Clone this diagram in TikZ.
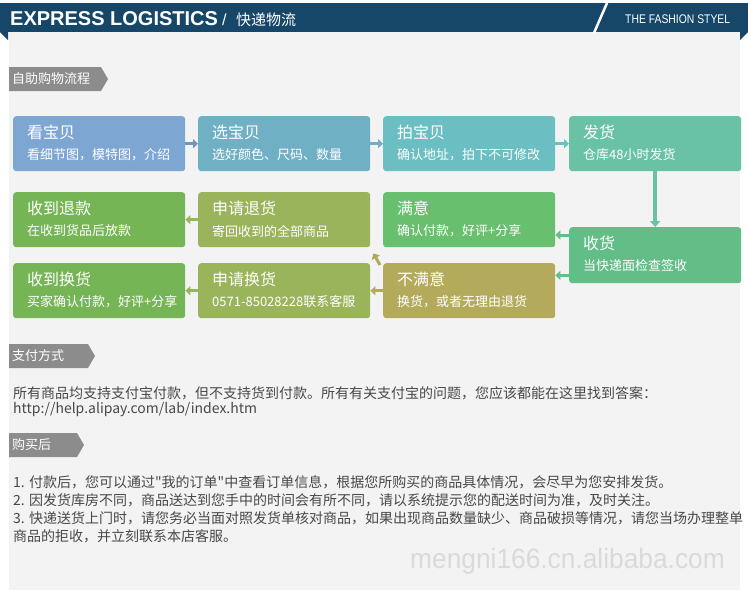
\documentclass[tikz,border=0pt]{standalone}
\usepackage{fontspec}
\usepackage{graphicx}
\setmainfont[Ligatures=TeXOff]{Noto Sans CJK SC}
\newfontfamily\arialfont{Liberation Sans}
\usetikzlibrary{arrows.meta,calc}
\definecolor{hdr}{RGB}{22,70,104}
\definecolor{bgc}{RGB}{243,243,243}
\definecolor{tabc}{RGB}{140,140,140}
\definecolor{txt}{RGB}{72,72,72}
\definecolor{wmk}{RGB}{218,218,218}
\definecolor{cblue}{RGB}{126,166,211}
\definecolor{cteala}{RGB}{112,176,196}
\definecolor{ctealb}{RGB}{107,191,195}
\definecolor{cmint}{RGB}{106,194,166}
\definecolor{cgreena}{RGB}{98,189,134}
\definecolor{cgreenb}{RGB}{104,191,110}
\definecolor{cochre}{RGB}{180,170,92}
\definecolor{colive}{RGB}{154,180,92}
\definecolor{cleaf}{RGB}{118,181,86}
\newcommand\fsz[1]{\fontsize{#1}{#1}\selectfont}
\tikzset{
  pbox/.style={rectangle, rounded corners=3pt, minimum width=172pt, inner sep=0pt, draw=none},
  ttl/.style={inner sep=0pt, text=white, font=\fsz{16}},
  subt/.style={inner sep=0pt, text=white, font=\fsz{13}},
  arr/.style={line width=3pt, -{Triangle[width=9pt,length=5pt]}},
  tabtxt/.style={inner sep=0pt, anchor=west, text=white, font=\fsz{13}},
  body/.style={inner sep=0pt, anchor=west, text=txt, font=\fsz{14}}
}
\newcommand\procbox[7]{%
  \node[pbox, fill=#5, minimum height=#4pt, anchor=north west] (#1) at (#2,#3) {};
  \node[ttl, anchor=west] (#1t) at ($(#1.north west)+(14,16)$) {#6};
  \node[subt, anchor=west] (#1s) at ($(#1.north west)+(14,39)$) {#7};
}
\newcommand\tabmark[4]{%
  \fill[tabc] (9,#2) -- (#3-7,#2) -- (#3,#2+12) -- (#3-7,#2+24) -- (9,#2+24) -- cycle;
  \node[tabtxt] (#1) at (12,#2+12) {#4};
}
\begin{document}
\begin{tikzpicture}[x=1pt,y=-1pt]
\useasboundingbox (0,0) rectangle (748,590);
\fill[white] (0,0) rectangle (748,590);
\fill[bgc] (9,32) rectangle (740,590);
% header
\fill[hdr] (0,3) rectangle (748,32);
\fill[hdr] (0,32) -- (8,32) -- (8,40) -- cycle;
\fill[hdr] (740,32) -- (748,32) -- (740,40) -- cycle;
\draw[white, line width=2.5pt] (607,3) -- (594,33);
\node[inner sep=0pt, anchor=base west, text=white] (title) at (10,25) {\arialfont\bfseries\fsz{20}EXPRESS LOGISTICS};
\node[inner sep=0pt, anchor=base west, text=white] (titleslash) at (222,25) {\arialfont\fsz{16}/};
\node[inner sep=0pt, anchor=base west, text=white] (titlecn) at (236,25) {\fsz{15}快递物流};
\node[inner sep=0pt, anchor=base west, text=white] (slogan) at (625,23) {\arialfont\fsz{12.5}\scalebox{0.83}[1]{THE FASHION STYEL}};
% section 1
\tabmark{tab1}{67}{108}{自助购物流程}
\procbox{kan}{13}{116}{55}{cblue}{看宝贝}{看细节图，模特图，介绍}
\procbox{xuan}{198}{116}{55}{cteala}{选宝贝}{选好颜色、尺码、数量}
\procbox{pai}{383}{116}{55}{ctealb}{拍宝贝}{确认地址，拍下不可修改}
\procbox{fa}{569}{116}{55}{cmint}{发货}{仓库48小时发货}
\procbox{tk}{13}{192}{55}{cleaf}{收到退款}{在收到货品后放款}
\procbox{sqt}{198}{192}{55}{colive}{申请退货}{寄回收到的全部商品}
\procbox{my}{383}{192}{55}{cgreenb}{满意}{确认付款，好评+分享}
\procbox{sh}{569}{227}{56}{cgreena}{收货}{当快递面检查签收}
\procbox{hh}{13}{263}{55}{cleaf}{收到换货}{买家确认付款，好评+分享}
\procbox{sqh}{198}{263}{55}{colive}{申请换货}{0571-85028228联系客服}
\procbox{bmy}{383}{263}{55}{cochre}{不满意}{换货，或者无理由退货}
% connectors
\draw[arr, cblue!90!black] (kan.east) -- (xuan.west);
\draw[arr, cteala] (xuan.east) -- (pai.west);
\draw[arr, ctealb] (pai.east) -- (fa.west);
\draw[line width=4pt, cmint, -{Triangle[width=10pt,length=6pt]}] (fa.south) -- (sh.north);
\draw[arr, cgreena] ([yshift=-8pt]sh.north west) -- ([yshift=-8pt]sh.north west -| my.east);
\draw[arr, cgreena] ([yshift=8pt]sh.south west) -- ([yshift=8pt]sh.south west -| bmy.east);
\draw[arr, cochre] ([xshift=-3pt,yshift=-2pt]bmy.north west) -- ([xshift=3pt,yshift=-6pt]sqt.south east);
\draw[arr, cochre] (bmy.west) -- (sqh.east);
\draw[arr, colive] (sqt.west) -- (tk.east);
\draw[arr, colive] (sqh.west) -- (hh.east);
% section 2
\tabmark{tab2}{344}{95}{支付方式}
\node[body] (pay1) at (13,393) {所有商品均支持支付宝付款，但不支持货到付款。所有有关支付宝的问题，您应该都能在这里找到答案：};
\node[body] (pay2) at (13,410) {http://help.alipay.com/lab/index.htm};
% section 3
\tabmark{tab3}{433}{84}{购买后}
\node[body] (l1) at (13,482) {1. 付款后，您可以通过"我的订单"中查看订单信息，根据您所购买的商品具体情况，会尽早为您安排发货。};
\node[body] (l2) at (13,500) {2. 因发货库房不同，商品送达到您手中的时间会有所不同，请以系统提示您的配送时间为准，及时关注。};
\node[body] (l3) at (13,518) {3. 快递送货上门时，请您务必当面对照发货单核对商品，如果出现商品数量缺少、商品破损等情况，请您当场办理整单};
\node[body] (l4) at (13,536) {商品的拒收，并立刻联系本店客服。};
\node[inner sep=0pt, anchor=base west, text=wmk] (wm) at (410,568) {\arialfont\fsz{28}\scalebox{0.94}[1]{mengni166.cn.alibaba.com}};
\end{tikzpicture}
\end{document}
